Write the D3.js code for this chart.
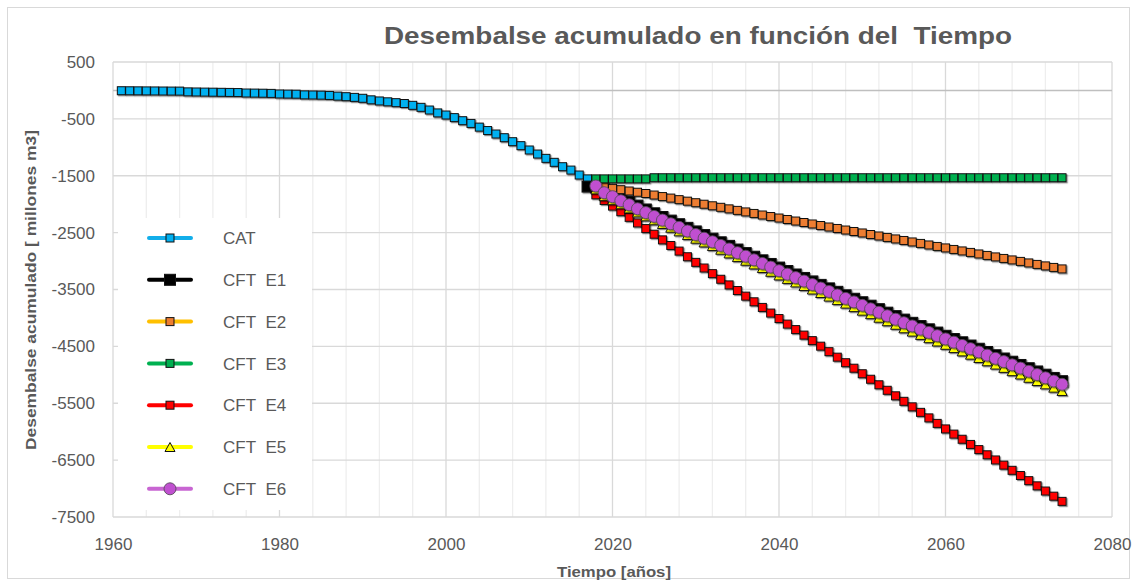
<!DOCTYPE html>
<html>
<head>
<meta charset="utf-8">
<script src="https://cdn.jsdelivr.net/npm/d3@7"></script>
<style>
  html, body { margin: 0; padding: 0; background: #fff; }
  svg { display: block; }
  text { font-family: "Liberation Sans", Arial, sans-serif; }
</style>
</head>
<body>
<svg id="chart" width="1137" height="585"></svg>
<script>
// ---------------- DATA ----------------
const title = "Desembalse acumulado en función del\u00a0 Tiempo";
const xTitle = "Tiempo [años]";
const yTitle = "Desembalse acumulado [ millones m3]";
const xTicks = [1960, 1980, 2000, 2020, 2040, 2060, 2080];
const yTicks = [500, -500, -1500, -2500, -3500, -4500, -5500, -6500, -7500];

const catStart = 1961;
const catValues = [-5, -6, -7, -8, -9, -10, -11, -12, -25, -27, -29, -31, -33, -35, -37, -45, -47, -49, -52,
  -62, -64, -66, -78, -80, -83, -88, -100, -110, -122, -138, -165, -185, -200, -215, -230, -262, -297, -344,
  -395, -432, -478, -532, -580, -645, -705, -766, -831, -901, -971, -1047, -1118, -1194, -1264, -1341, -1400,
  -1487, -1555];

const e1Start = 2017;
const e1Values = [-1690, -1700, -1743, -1813, -1884, -1955, -2025, -2093, -2160, -2225, -2289, -2352, -2416,
  -2479, -2543, -2606, -2670, -2733, -2797, -2860, -2924, -2987, -3051, -3114, -3175, -3236, -3297, -3358,
  -3419, -3480, -3541, -3602, -3663, -3724, -3785, -3846, -3907, -3968, -4029, -4086, -4143, -4200, -4257,
  -4314, -4371, -4428, -4485, -4542, -4599, -4656, -4713, -4770, -4827, -4884, -4941, -4998, -5055, -5112];

const cftStart = 2018;
const e2Values = [-1665, -1693, -1721, -1745, -1768, -1790, -1812, -1839, -1866, -1893, -1920, -1947, -1974,
  -2001, -2028, -2055, -2082, -2109, -2136, -2163, -2190, -2217, -2243, -2269, -2296, -2322, -2348, -2375,
  -2401, -2427, -2454, -2480, -2506, -2533, -2559, -2585, -2611, -2638, -2664, -2690, -2717, -2743, -2769,
  -2796, -2822, -2848, -2875, -2901, -2927, -2954, -2980, -3006, -3033, -3059, -3085, -3112, -3138];
const e3Values = [-1555, -1555, -1555, -1555, -1555, -1555, -1555, -1535, -1535, -1535, -1535, -1535, -1535,
  -1535, -1535, -1535, -1535, -1535, -1535, -1535, -1535, -1535, -1535, -1535, -1535, -1535, -1535, -1535,
  -1535, -1535, -1535, -1535, -1535, -1535, -1535, -1535, -1535, -1535, -1535, -1535, -1535, -1535, -1535,
  -1535, -1535, -1535, -1535, -1535, -1535, -1535, -1535, -1535, -1535, -1535, -1535, -1535, -1535];
const e4Values = [-1835, -1934, -2033, -2132, -2231, -2330, -2429, -2528, -2627, -2726, -2825, -2924, -3023,
  -3122, -3221, -3320, -3419, -3518, -3617, -3716, -3815, -3914, -4011, -4108, -4205, -4302, -4399, -4496,
  -4593, -4690, -4787, -4884, -4981, -5078, -5175, -5272, -5369, -5466, -5563, -5660, -5757, -5854, -5951,
  -6042, -6133, -6224, -6315, -6406, -6497, -6588, -6679, -6770, -6861, -6952, -7043, -7134, -7225];
const e5Values = [-1740, -1859, -1930, -2002, -2074, -2145, -2214, -2283, -2349, -2414, -2478, -2543, -2607,
  -2672, -2736, -2801, -2865, -2930, -2994, -3059, -3123, -3188, -3252, -3314, -3376, -3438, -3500, -3562,
  -3624, -3686, -3748, -3810, -3872, -3934, -3996, -4058, -4120, -4182, -4240, -4298, -4356, -4414, -4472,
  -4530, -4588, -4646, -4704, -4762, -4820, -4878, -4936, -4994, -5052, -5110, -5168, -5226, -5284];
const e6Values = [-1680, -1798, -1868, -1939, -2010, -2080, -2148, -2215, -2280, -2344, -2407, -2471, -2534,
  -2598, -2661, -2725, -2788, -2852, -2915, -2979, -3042, -3106, -3169, -3230, -3291, -3352, -3413, -3474,
  -3535, -3596, -3657, -3718, -3779, -3840, -3901, -3962, -4023, -4084, -4141, -4198, -4255, -4312, -4369,
  -4426, -4483, -4540, -4597, -4654, -4711, -4768, -4825, -4882, -4939, -4996, -5053, -5110, -5167];

const seriesNames = ["CAT", "CFT\u00a0 E1", "CFT\u00a0 E2", "CFT\u00a0 E3", "CFT\u00a0 E4", "CFT\u00a0 E5", "CFT\u00a0 E6"];

// ---------------- STYLE ----------------
const series = [
  { name: seriesNames[0], start: catStart, values: catValues, line: "#12AEEA", fill: "#00B0F0", shape: "square", size: 8 },
  { name: seriesNames[1], start: e1Start, values: e1Values, line: "#000000", fill: "#000000", shape: "square", size: 11 },
  { name: seriesNames[2], start: cftStart, values: e2Values, line: "#FFC000", fill: "#ED7D31", shape: "square", size: 8 },
  { name: seriesNames[3], start: cftStart, values: e3Values, line: "#00B050", fill: "#00B050", shape: "square", size: 8 },
  { name: seriesNames[4], start: cftStart, values: e4Values, line: "#FF0000", fill: "#FF0000", shape: "square", size: 8 },
  { name: seriesNames[5], start: cftStart, values: e5Values, line: "#FFFF00", fill: "#FFFF00", shape: "triangle", size: 10 },
  { name: seriesNames[6], start: cftStart, values: e6Values, line: "#C865D2", fill: "#C050D0", shape: "circle", size: 12 }
];

const svg = d3.select("#chart");
const W = 1137, H = 585;
const plot = { left: 113, right: 1112, top: 62, bottom: 517 };

const defs = svg.append("defs");
const f = defs.append("filter").attr("id", "shadow").attr("x", "-50%").attr("y", "-50%").attr("width", "200%").attr("height", "200%");
f.append("feDropShadow").attr("dx", 1.2).attr("dy", 1.2).attr("stdDeviation", 0.7)
  .attr("flood-color", "#000").attr("flood-opacity", 0.45);

// outer border
svg.append("rect").attr("x", 7.5).attr("y", 7.5).attr("width", W - 15).attr("height", H - 14)
  .attr("fill", "#fff").attr("stroke", "#D9D9D9").attr("stroke-width", 1);

const x = d3.scaleLinear().domain([1960, 2080]).range([plot.left, plot.right]);
const y = d3.scaleLinear().domain([-7500, 500]).range([plot.bottom, plot.top]);

// gridlines
const grid = svg.append("g");
const minorX = d3.range(1960, 2081, 4).filter(v => v % 20 !== 0);
grid.selectAll(".vminor").data(minorX).enter().append("line")
  .attr("x1", d => x(d)).attr("x2", d => x(d)).attr("y1", plot.top).attr("y2", plot.bottom)
  .attr("stroke", "#EEEEEE").attr("stroke-width", 1.3);
grid.selectAll(".vmajor").data(xTicks).enter().append("line")
  .attr("x1", d => x(d)).attr("x2", d => x(d)).attr("y1", plot.top).attr("y2", plot.bottom)
  .attr("stroke", "#D9D9D9").attr("stroke-width", 1.3);
grid.selectAll(".hmajor").data(yTicks).enter().append("line")
  .attr("x1", plot.left).attr("x2", plot.right).attr("y1", d => y(d)).attr("y2", d => y(d))
  .attr("stroke", "#D9D9D9").attr("stroke-width", 1.3);
// horizontal axis line at zero
grid.append("line").attr("x1", plot.left).attr("x2", plot.right).attr("y1", y(0)).attr("y2", y(0))
  .attr("stroke", "#BFBFBF").attr("stroke-width", 1.5);

// axes (labels)
const xAxis = svg.append("g").attr("transform", `translate(0,${plot.bottom})`)
  .call(d3.axisBottom(x).tickValues(xTicks).tickFormat(d3.format("d")).tickSize(0).tickPadding(21));
xAxis.select(".domain").remove();
xAxis.selectAll("text").attr("font-size", 17).attr("fill", "#595959")
  .attr("font-family", "'Liberation Sans', Arial, sans-serif");

const yAxis = svg.append("g").attr("transform", `translate(${plot.left},0)`)
  .call(d3.axisLeft(y).tickValues(yTicks).tickFormat(d => d < 0 ? "-" + Math.abs(d) : String(d)).tickSize(0).tickPadding(18));
yAxis.select(".domain").remove();
yAxis.selectAll("text").attr("font-size", 17).attr("fill", "#595959")
  .attr("font-family", "'Liberation Sans', Arial, sans-serif");

// marker drawing helper
function drawMarker(g, s, cx, cy) {
  const sz = s.size;
  if (s.shape === "square") {
    g.append("rect").attr("x", cx - sz / 2).attr("y", cy - sz / 2).attr("width", sz).attr("height", sz)
      .attr("fill", s.fill).attr("stroke", "#111").attr("stroke-width", 1);
  } else if (s.shape === "circle") {
    g.append("circle").attr("cx", cx).attr("cy", cy).attr("r", sz / 2)
      .attr("fill", s.fill).attr("stroke", "#5a4a5e").attr("stroke-width", 0.9);
  } else if (s.shape === "triangle") {
    const h = sz * 0.9;
    g.append("path").attr("d", `M${cx},${cy - h / 2}L${cx + sz / 2},${cy + h / 2}L${cx - sz / 2},${cy + h / 2}Z`)
      .attr("fill", s.fill).attr("stroke", "#111").attr("stroke-width", 1);
  }
}

// series
const line = d3.line().x(d => x(d.year)).y(d => y(d.value));
series.forEach(s => {
  const pts = s.values.map((v, i) => ({ year: s.start + i, value: v }));
  const g = svg.append("g");
  g.append("path").datum(pts).attr("d", line).attr("fill", "none")
    .attr("stroke", s.line).attr("stroke-width", 4).attr("stroke-linejoin", "round");
  const mg = g.append("g").attr("filter", "url(#shadow)");
  pts.forEach(p => drawMarker(mg, s, x(p.year), y(p.value)));
});

// legend
const lg = svg.append("g");
lg.append("rect").attr("x", 118).attr("y", 218).attr("width", 194).attr("height", 292).attr("fill", "#fff");
series.forEach((s, i) => {
  const cy = 238 + i * 41.8;
  lg.append("line").attr("x1", 149).attr("x2", 191).attr("y1", cy).attr("y2", cy)
    .attr("stroke", s.line).attr("stroke-width", 4).attr("stroke-linecap", "round");
  const mg = lg.append("g");
  drawMarker(mg, s, 170, cy);
  lg.append("text").attr("x", 223).attr("y", cy).attr("dy", "0.36em")
    .attr("font-size", 17).attr("fill", "#595959").text(s.name);
});

// titles
svg.append("text").attr("x", 698).attr("y", 44).attr("text-anchor", "middle")
  .attr("font-size", 24).attr("font-weight", "bold").attr("fill", "#595959")
  .attr("textLength", 628).attr("lengthAdjust", "spacingAndGlyphs").text(title);
svg.append("text").attr("x", 614).attr("y", 577).attr("text-anchor", "middle")
  .attr("font-size", 15).attr("font-weight", "bold").attr("fill", "#595959")
  .attr("textLength", 114).attr("lengthAdjust", "spacingAndGlyphs").text(xTitle);
svg.append("text").attr("transform", "translate(36,290) rotate(-90)").attr("text-anchor", "middle")
  .attr("font-size", 15).attr("font-weight", "bold").attr("fill", "#595959")
  .attr("textLength", 320).attr("lengthAdjust", "spacingAndGlyphs").text(yTitle);
</script>
</body>
</html>
